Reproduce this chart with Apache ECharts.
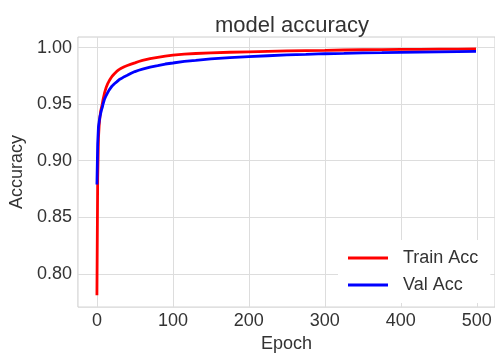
<!DOCTYPE html>
<html>
<head>
<meta charset="utf-8">
<script src="https://cdn.jsdelivr.net/npm/echarts@6/dist/echarts.min.js"></script>
<style>
  html, body { margin: 0; padding: 0; background: #fff; }
  #chart { width: 495px; height: 358px; }
</style>
</head>
<body>
<div id="chart"></div>
<script>
// Training history: accuracy per epoch
const trainEpochs = [0, 1, 2, 3, 4, 5, 6, 7, 8, 10, 12, 14, 16, 18, 20, 23, 26, 29, 32, 36, 40, 45, 50, 55, 60, 70, 80, 90, 100, 115, 130, 150, 175, 200, 225, 250, 275, 300, 325, 350, 375, 400, 425, 450, 475, 499];
const trainAcc = [0.781, 0.885, 0.920, 0.932, 0.939, 0.944, 0.947, 0.950, 0.954, 0.960, 0.9645, 0.968, 0.9705, 0.9728, 0.9748, 0.977, 0.9790, 0.9806, 0.9818, 0.9832, 0.9843, 0.9855, 0.9866, 0.9878, 0.9888, 0.9903, 0.9915, 0.9926, 0.9935, 0.9943, 0.9949, 0.9954, 0.9960, 0.9964, 0.9968, 0.9972, 0.9975, 0.9977, 0.9980, 0.9982, 0.9983, 0.9985, 0.9986, 0.9987, 0.9988, 0.9989];

const valEpochs = [0, 1, 2, 3, 4, 5, 6, 7, 8, 10, 12, 14, 16, 18, 20, 23, 26, 29, 32, 36, 40, 45, 50, 55, 60, 70, 80, 90, 100, 115, 130, 150, 175, 200, 225, 250, 275, 300, 325, 350, 375, 400, 425, 450, 475, 499];
const valAcc = [0.879, 0.915, 0.930, 0.935, 0.939, 0.942, 0.945, 0.947, 0.950, 0.9545, 0.9575, 0.9600, 0.9625, 0.9642, 0.9662, 0.9681, 0.9698, 0.9716, 0.9727, 0.9744, 0.9756, 0.9774, 0.9789, 0.9801, 0.9811, 0.9829, 0.9842, 0.9856, 0.9865, 0.9879, 0.9888, 0.9901, 0.9912, 0.9922, 0.9929, 0.9936, 0.9941, 0.9947, 0.9950, 0.9954, 0.9956, 0.9959, 0.9961, 0.9963, 0.9965, 0.9967];

// Axis ticks
const xTicks = [0, 100, 200, 300, 400, 500];
const yTicks = [0.80, 0.85, 0.90, 0.95, 1.00];

const FONT = "'Liberation Sans', Arial, sans-serif";
const TEXT = '#333333';

const pairs = (xs, ys) => xs.map((x, i) => [x, ys[i]]);

const chart = echarts.init(document.getElementById('chart'), null, { renderer: 'canvas' });
chart.setOption({
  backgroundColor: '#ffffff',
  animation: false,
  textStyle: { fontFamily: FONT },
  title: {
    text: 'model accuracy',
    left: 287,
    textAlign: 'center',
    top: 10,
    textStyle: { fontFamily: FONT, fontSize: 22, fontWeight: 'normal', color: TEXT }
  },
  grid: {
    left: 77, right: -3.5, top: 37, bottom: 46,
    show: true, borderColor: '#cccccc', borderWidth: 1, backgroundColor: '#ffffff'
  },
  legend: {
    orient: 'vertical',
    left: 338,
    top: 240,
    padding: [9, 12, 9, 10],
    backgroundColor: '#ffffff',
    itemWidth: 40,
    itemHeight: 3,
    itemGap: 9,
    icon: 'rect',
    textStyle: { fontFamily: FONT, fontSize: 18, color: TEXT, padding: [0, 0, 0, 10] },
    data: ['Train Acc', 'Val Acc']
  },
  xAxis: {
    type: 'value',
    min: -25,
    max: 524,
    name: 'Epoch',
    nameLocation: 'middle',
    nameGap: 26,
    nameTextStyle: { fontFamily: FONT, fontSize: 18, color: TEXT },
    axisLine: { show: false },
    axisTick: { show: false, customValues: xTicks },
    axisLabel: { customValues: xTicks, fontFamily: FONT, fontSize: 18, color: TEXT, margin: 5 },
    splitLine: { show: true, lineStyle: { color: '#dddddd', width: 1 } }
  },
  yAxis: {
    type: 'value',
    min: 0.7705,
    max: 1.0095,
    name: 'Accuracy',
    nameLocation: 'middle',
    nameGap: 50,
    nameTextStyle: { fontFamily: FONT, fontSize: 18, color: TEXT },
    axisLine: { show: false },
    axisTick: { show: false, customValues: yTicks },
    axisLabel: {
      customValues: yTicks, fontFamily: FONT, fontSize: 18, color: TEXT, margin: 6,
      formatter: v => v.toFixed(2)
    },
    splitLine: { show: true, lineStyle: { color: '#dddddd', width: 1 } }
  },
  series: [
    {
      name: 'Train Acc', type: 'line', data: pairs(trainEpochs, trainAcc),
      showSymbol: false, color: '#ff0000', lineStyle: { width: 2.8, color: '#ff0000' }, z: 2
    },
    {
      name: 'Val Acc', type: 'line', data: pairs(valEpochs, valAcc),
      showSymbol: false, color: '#0000ff', lineStyle: { width: 2.8, color: '#0000ff' }, z: 3
    }
  ]
});
</script>
</body>
</html>
